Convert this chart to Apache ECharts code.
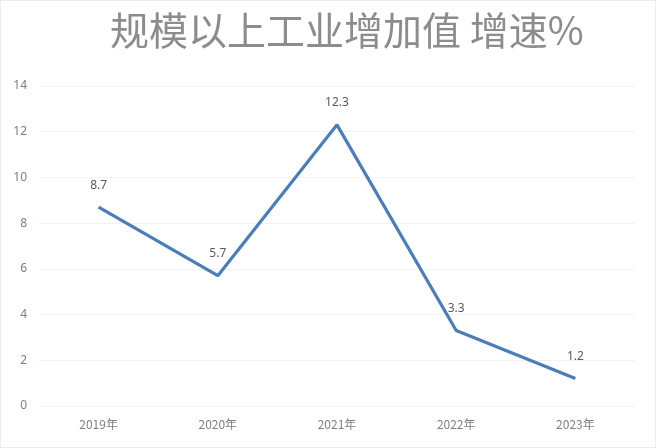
<!DOCTYPE html>
<html><head><meta charset="utf-8">
<script src="https://cdn.jsdelivr.net/npm/echarts@6/dist/echarts.min.js"></script>
<style>
html,body{margin:0;padding:0;background:#fff;}
#c{position:absolute;left:0;top:0;width:654px;height:446px;border:1px solid #ececec;}
</style></head>
<body><div id="c"></div>
<script>
const titleText = '规模以上工业增加值 增速%';
const categories = ['2019年','2020年','2021年','2022年','2023年'];
const growth = [8.7, 5.7, 12.3, 3.3, 1.2];
const yMin = 0, yMax = 14, yStep = 2;

const chart = echarts.init(document.getElementById('c'));
chart.setOption({
  animation: false,
  backgroundColor: '#fff',
  title: {
    text: titleText,
    left: 104,
    top: 5,
    textStyle: {
      fontFamily: '"Noto Sans CJK SC", serif',
      fontSize: 39,
      fontWeight: 'normal',
      color: '#8c8c8c',
      textShadowColor: 'rgba(190,140,90,0.6)',
      textShadowOffsetX: -1,
      textShadowOffsetY: 1,
      textShadowBlur: 0
    }
  },
  grid: { left: 38, right: 20, top: 85, bottom: 41, containLabel: false },
  xAxis: {
    type: 'category',
    data: categories,
    boundaryGap: true,
    axisLine: { show: false },
    axisTick: { show: false },
    axisLabel: { color: '#7f7f7f', fontSize: 12, margin: 12, fontFamily: '"Noto Sans CJK SC", sans-serif' }
  },
  yAxis: {
    type: 'value',
    min: yMin, max: yMax, interval: yStep,
    axisLine: { show: false },
    axisTick: { show: false },
    axisLabel: { color: '#7f7f7f', fontSize: 12, margin: 12, fontFamily: '"Noto Sans", sans-serif' },
    splitLine: { lineStyle: { color: '#f2f2f2', width: 1 } }
  },
  series: [{
    type: 'line',
    data: growth,
    symbol: 'circle',
    symbolSize: 0,
    showSymbol: true,
    lineStyle: { color: '#4a7ebb', width: 3.2 },
    itemStyle: { color: '#4a7ebb' },
    label: {
      show: true,
      position: 'top',
      distance: 16,
      color: '#595959',
      fontSize: 12,
      fontFamily: '"Noto Sans", sans-serif'
    }
  }]
});
</script></body></html>
